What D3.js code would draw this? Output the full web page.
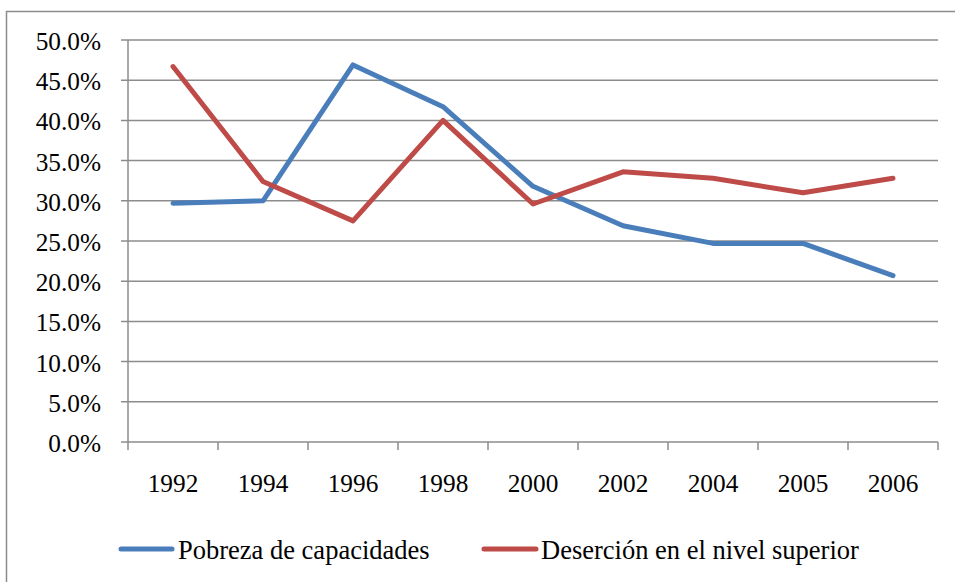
<!DOCTYPE html>
<html><head><meta charset="utf-8">
<script src="https://cdn.jsdelivr.net/npm/d3@7"></script>
<style>body{margin:0;background:#fff}svg{display:block}</style>
</head><body>
<script>
const years = ["1992","1994","1996","1998","2000","2002","2004","2005","2006"];
const pobreza = [29.7, 30.0, 46.9, 41.7, 31.8, 26.9, 24.7, 24.7, 20.7];
const desercion = [46.7, 32.4, 27.5, 40.0, 29.6, 33.6, 32.8, 31.0, 32.8];
const yTicks = [0,5,10,15,20,25,30,35,40,45,50];
const seriesNames = ["Pobreza de capacidades","Deserción en el nivel superior"];
const colors = ["#4a7ebb","#be4b48"];

const FONT = "'Liberation Serif', 'Times New Roman', Times, serif";
const W = 955, H = 582;
const svg = d3.select("body").append("svg").attr("width", W).attr("height", H)
  .attr("font-family", FONT);
svg.append("rect").attr("x",6.5).attr("y",11.5).attr("width",W+20).attr("height",H+20)
  .attr("fill","none").attr("stroke","#8c8c8c").attr("stroke-width",1.5);

const x = d3.scaleBand().domain(years).range([128, 938]);
const y = d3.scaleLinear().domain([0, 50]).range([442, 40]);
const grid = "#8c8c8c";

svg.append("g").selectAll("line").data(yTicks).join("line")
  .attr("x1", 121).attr("x2", 938)
  .attr("y1", d => y(d)).attr("y2", d => y(d))
  .attr("stroke", grid).attr("stroke-width", 1.5);
svg.append("line").attr("x1",128).attr("x2",128).attr("y1",40).attr("y2",442)
  .attr("stroke",grid).attr("stroke-width",1.5);
svg.append("g").selectAll("text").data(yTicks).join("text")
  .attr("x", 101).attr("y", d => y(d) + 10)
  .attr("text-anchor","end").attr("font-size", 25.3).attr("font-family", FONT)
  .text(d => d.toFixed(1) + "%");
const bounds = years.map(d => x(d)).concat([x.range()[1]]);
svg.append("g").selectAll("line").data(bounds).join("line")
  .attr("x1", d => d).attr("x2", d => d).attr("y1", 442).attr("y2", 450)
  .attr("stroke", grid).attr("stroke-width", 1.5);
svg.append("g").selectAll("text").data(years).join("text")
  .attr("x", d => x(d) + x.bandwidth()/2).attr("y", 492)
  .attr("text-anchor","middle").attr("font-size", 25.3).attr("font-family", FONT).text(d => d);

const line = d3.line().x((d,i) => x(years[i]) + x.bandwidth()/2).y(d => y(d));
[pobreza, desercion].forEach((s, k) => {
  svg.append("path").datum(s).attr("d", line).attr("fill","none")
    .attr("stroke", colors[k]).attr("stroke-width", 5)
    .attr("stroke-linejoin","round").attr("stroke-linecap","round");
});

const leg = [{x1:121,x2:172,tx:178},{x1:484,x2:536,tx:541}];
leg.forEach((l,k) => {
  svg.append("line").attr("x1",l.x1).attr("x2",l.x2).attr("y1",549).attr("y2",549)
    .attr("stroke",colors[k]).attr("stroke-width",5).attr("stroke-linecap","round");
  svg.append("text").attr("x",l.tx).attr("y",559).attr("font-size",26.5)
    .attr("font-family", FONT).text(seriesNames[k]);
});
</script>
</body></html>
